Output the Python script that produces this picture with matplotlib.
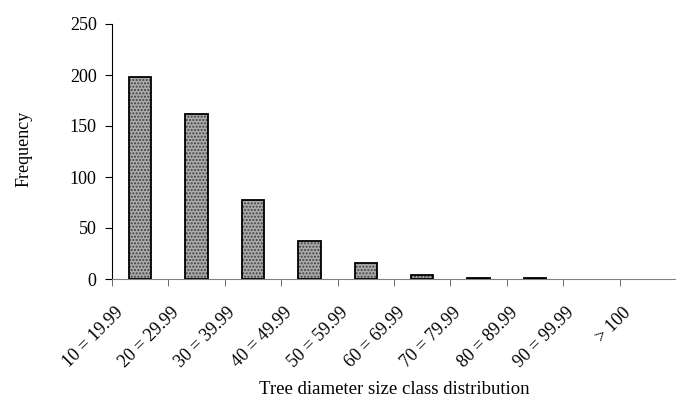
import matplotlib.pyplot as plt
import matplotlib.transforms as mtransforms
import numpy as np

classes = ["10 = 19.99", "20 = 29.99", "30 = 39.99", "40 = 49.99", "50 = 59.99",
           "60 = 69.99", "70 = 79.99", "80 = 89.99", "90 = 99.99", "> 100"]
frequency = [198, 162, 77, 37, 16, 4, 1, 1, 0, 0]

plt.rcParams['font.family'] = ['Liberation Serif', 'DejaVu Serif']
plt.rcParams['hatch.linewidth'] = 1.0

W, H = 676, 401
fig = plt.figure(figsize=(W / 100, H / 100), dpi=100)
ax = fig.add_axes([112 / W, 1 - 279 / H, 1 - 112 / W, (279 - 24) / H])

x = np.arange(len(classes))
# dotted fill first, then the outline on top; empty classes get no outline
ax.bar(x, frequency, width=0.40, color='#ababab', edgecolor='#404040', hatch='.....',
       linewidth=0, zorder=3)
widths = [1.3 if f > 0 else 0 for f in frequency]
ax.bar(x, frequency, width=0.40, fill=False, edgecolor='black', linewidth=widths, zorder=4)

ax.set_xlim(-0.5, 9.34)
ax.set_ylim(0, 250)
ax.set_yticks([0, 50, 100, 150, 200, 250])

ax.set_xticks(x)
ax.set_xticklabels(classes, rotation=45, ha='right', va='top', rotation_mode='anchor')
ax.set_xticks(np.arange(-0.5, 10, 1), minor=True)
ax.tick_params(axis='x', which='major', length=0, pad=18, labelsize=13)
ax.tick_params(axis='x', which='minor', length=5, color='#555555')
ax.tick_params(axis='y', length=5, pad=6, labelsize=13)

shift = mtransforms.ScaledTranslation(-26 / 100, 0, fig.dpi_scale_trans)
for lab in ax.get_xticklabels():
    lab.set_transform(lab.get_transform() + shift)

ax.spines['top'].set_visible(False)
ax.spines['right'].set_visible(False)
ax.spines['bottom'].set_color('#808080')

ax.set_ylabel("Frequency", fontsize=13)
ax.yaxis.set_label_coords((33 - 112) / 563, 0.51)
ax.set_xlabel("Tree diameter size class distribution", fontsize=13.5)
ax.xaxis.set_label_coords(0.5, (279 - 381) / 255)

plt.savefig('out.png', dpi=100)
